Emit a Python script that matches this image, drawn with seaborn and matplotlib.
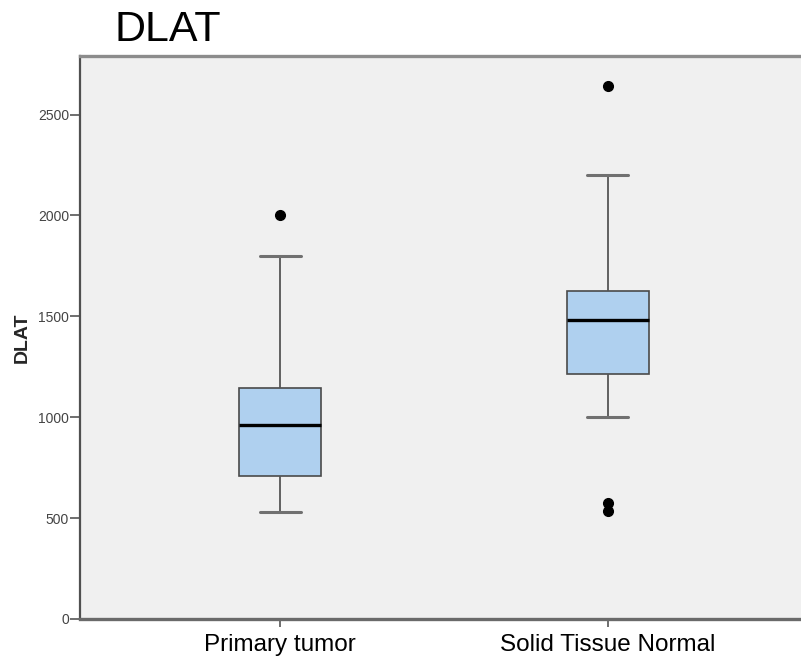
import matplotlib
matplotlib.use("Agg")
import matplotlib.pyplot as plt
import pandas as pd
import seaborn as sns

# Expression values per sample group
categories = ["Primary tumor", "Solid Tissue Normal"]
primary_tumor = [530, 707, 707, 960, 960, 1145, 1145, 1800, 2000]
solid_normal = [535, 573, 1000, 1216, 1216, 1481, 1481, 1481, 1625, 1625, 1625, 2200, 2640]
y_ticks = [0, 500, 1000, 1500, 2000, 2500]

df = pd.DataFrame({
    "group": [categories[0]] * len(primary_tumor) + [categories[1]] * len(solid_normal),
    "DLAT": primary_tumor + solid_normal,
})

sns.set_theme(style="white")
plt.rcParams["font.family"] = ["Liberation Sans", "DejaVu Sans"]

W, H = 801, 662
fig = plt.figure(figsize=(W / 100, H / 100), dpi=100)
fig.patch.set_facecolor("white")
ax = fig.add_axes([80 / W, (H - 619) / H, 729 / W, (619 - 56) / H])
ax.set_facecolor("#F0F0F0")

sns.boxplot(
    data=df, x="group", y="DLAT", order=categories, ax=ax,
    color="#AFD0EF", saturation=1, width=0.25, whis=1.5,
    boxprops=dict(edgecolor="#4a4a4a", linewidth=1.2),
    medianprops=dict(color="black", linewidth=2.4),
    whiskerprops=dict(color="#555555", linewidth=1.3),
    capprops=dict(color="#707070", linewidth=2.2),
    flierprops=dict(marker="o", markerfacecolor="black", markeredgecolor="black",
                    markersize=7),
)

ax.set_ylim(0, 2790)
ax.set_xlim(-0.61, 1.613)
ax.set_yticks(y_ticks)
ax.set_yticklabels([str(v) for v in y_ticks], fontsize=10, color="#444444")
ax.tick_params(axis="y", direction="out", length=7, width=1.2, color="#555555",
               pad=1, left=True)
ax.tick_params(axis="x", direction="out", length=6, width=1.2, color="#555555",
               pad=5, bottom=True, labelsize=17.5, labelcolor="black")
ax.set_xlabel("")
ax.set_ylabel("DLAT", fontsize=14, fontweight="bold", labelpad=5)

for side, lw, col in [("left", 1.6, "#505050"), ("bottom", 2.4, "#6a6a6a"),
                      ("top", 2.4, "#8c8c8c")]:
    ax.spines[side].set_visible(True)
    ax.spines[side].set_linewidth(lw)
    ax.spines[side].set_color(col)
ax.spines["right"].set_visible(False)

fig.text(115 / W, 1 - 41 / H, "DLAT", fontsize=31, va="baseline", ha="left",
         color="black")

fig.savefig("out.png", dpi=100)
